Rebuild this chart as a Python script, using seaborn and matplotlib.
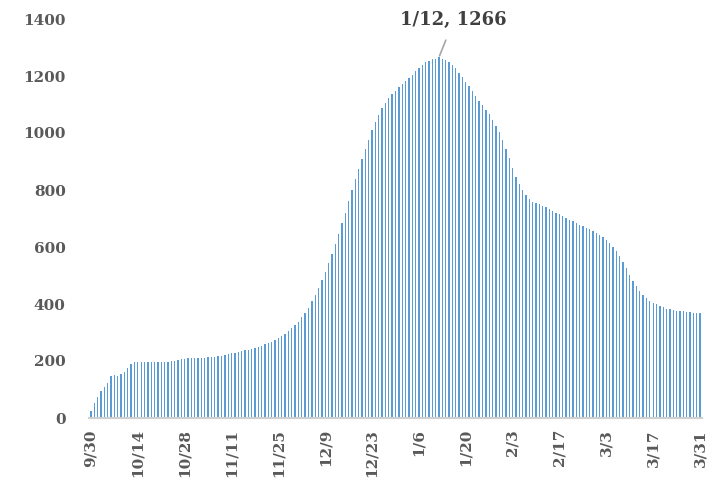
import numpy as np
import pandas as pd
import matplotlib
matplotlib.use("Agg")
import matplotlib.pyplot as plt
import seaborn as sns

# Daily dates 9/30 .. 3/31
dates = pd.date_range("2020-09-30", "2021-03-31", freq="D")
date_labels = [f"{d.month}/{d.day}" for d in dates]

values = [
    23, 53, 73, 94, 110, 123, 146, 152, 149, 156,
    163, 176, 191, 197, 197, 196, 196, 195, 195, 195,
    196, 196, 197, 198, 200, 201, 203, 206, 208, 209,
    210, 210, 211, 212, 212, 213, 214, 215, 216, 219,
    222, 225, 227, 229, 230, 234, 237, 240, 243, 247,
    250, 254, 258, 263, 267, 274, 281, 288, 296, 305,
    316, 327, 338, 354, 368, 387, 409, 431, 456, 484,
    513, 544, 577, 611, 646, 683, 720, 761, 800, 838,
    873, 909, 943, 976, 1009, 1038, 1063, 1086, 1107, 1124,
    1138, 1149, 1160, 1171, 1182, 1194, 1205, 1217, 1229, 1240,
    1248, 1254, 1258, 1261, 1266, 1261, 1255, 1248, 1238, 1227,
    1212, 1196, 1180, 1164, 1146, 1131, 1114, 1098, 1082, 1066,
    1047, 1024, 1002, 974, 944, 912, 877, 845, 820, 799,
    781, 767, 759, 754, 750, 745, 740, 734, 727, 720,
    715, 708, 701, 695, 690, 684, 678, 674, 668, 662,
    656, 650, 642, 634, 625, 613, 599, 585, 568, 548,
    527, 502, 481, 463, 446, 433, 422, 411, 405, 400,
    394, 389, 384, 382, 380, 377, 376, 374, 373, 372,
    370, 369, 369,
]

tick_labels = ["9/30", "10/14", "10/28", "11/11", "11/25", "12/9", "12/23",
               "1/6", "1/20", "2/3", "2/17", "3/3", "3/17", "3/31"]
y_ticks = [0, 200, 400, 600, 800, 1000, 1200, 1400]

peak_label = "1/12, 1266"
peak_date = "1/12"
peak_value = 1266

df = pd.DataFrame({"date": date_labels, "value": values})

sns.set_style("white")
plt.rcParams["font.family"] = ["DejaVu Serif"]

text_color = "#595959"
fig = plt.figure(figsize=(7.23, 4.8), dpi=100)
ax = fig.add_axes([89.3 / 723, 62 / 480, (701.7 - 89.3) / 723, (418 - 19) / 480 * 1.0])

sns.barplot(data=df, x="date", y="value", order=date_labels, color="#5B9BD5",
            saturation=1, width=0.4, ax=ax, linewidth=0)

ax.set_xlim(-0.5, len(values) - 0.5)
ax.set_ylim(0, 1400)
ax.set_yticks(y_ticks)
ax.set_yticklabels([str(v) for v in y_ticks], fontsize=11, fontweight="bold", color=text_color)

pos = [date_labels.index(t) for t in tick_labels]
ax.set_xticks(pos)
ax.set_xticklabels(tick_labels, rotation=90, fontsize=11, fontweight="bold", color=text_color)
ax.tick_params(axis="y", length=0, pad=17)
ax.tick_params(axis="x", length=0, pad=8)
ax.set_xlabel("")
ax.set_ylabel("")

for s in ["top", "right", "left"]:
    ax.spines[s].set_visible(False)
ax.spines["bottom"].set_color("#D0D0D0")
ax.spines["bottom"].set_linewidth(1.5)

px = date_labels.index(peak_date)
ax.annotate(peak_label, xy=(px, peak_value), xytext=(px + 4.3, 1396),
            ha="center", va="center", fontsize=13, fontweight="bold", color="#404040",
            arrowprops=dict(arrowstyle="-", color="#A6A6A6", lw=1.2,
                            relpos=(0.47, 0.0), shrinkA=6, shrinkB=1),
            annotation_clip=False)

fig.savefig("out.png", dpi=100)
